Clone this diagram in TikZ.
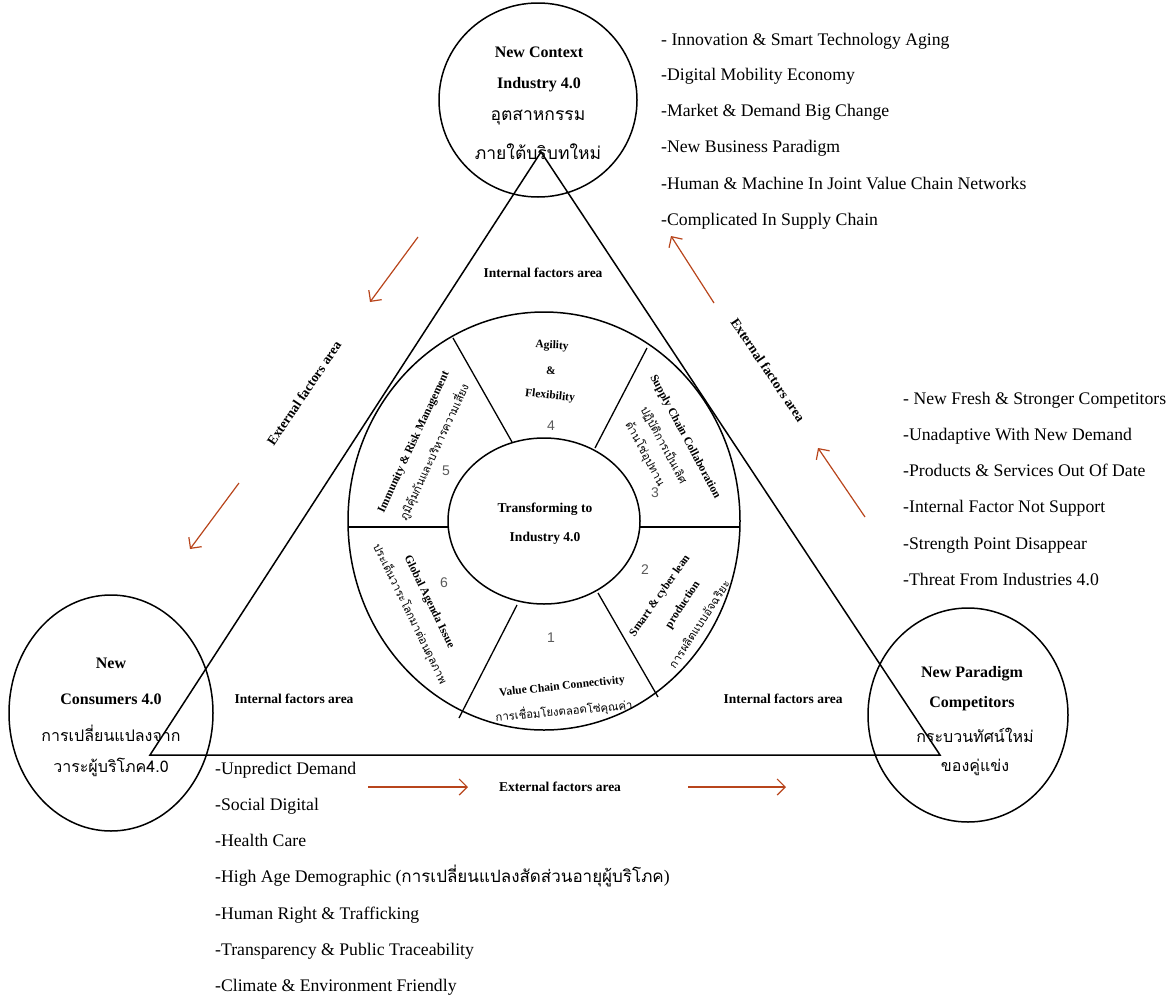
\documentclass[tikz,border=0pt]{standalone}
\usepackage{fontspec}
\setmainfont{Liberation Serif}
\newfontfamily\thai[Script=Thai]{Loma}
\newfontfamily\numfont{Liberation Sans}
\usetikzlibrary{arrows.meta,shapes.geometric}
\definecolor{arrowc}{RGB}{184,69,28}
\definecolor{numc}{RGB}{90,90,90}
\begin{document}
\begin{tikzpicture}[x=1pt,y=-1pt,
 shapeline/.style={draw, line width=1.5pt},
 oval/.style={shapeline, ellipse, inner sep=0pt},
 divider/.style={line width=1.3pt},
 item/.style={anchor=west, inner sep=0pt, font=\fontsize{17.7}{20}\selectfont, text height=12pt, text depth=4pt},
 ctitle/.style={font=\bfseries\fontsize{16}{18}\selectfont, inner sep=0pt},
 cthai/.style={font=\thai\fontsize{16}{19}\selectfont, inner sep=0pt},
 cthaitop/.style={font=\thai\fontsize{17.5}{20}\selectfont, inner sep=0pt},
 area/.style={font=\bfseries\fontsize{13.5}{16}\selectfont, inner sep=0pt},
 seg/.style={font=\bfseries\fontsize{11.5}{13}\selectfont, inner sep=0pt},
 segthai/.style={font=\thai\fontsize{11.3}{13}\selectfont, inner sep=0pt},
 num/.style={font=\numfont\fontsize{14}{16}\selectfont, text=numc, inner sep=0pt},
 flow/.style={draw=arrowc, line width=1.2pt, -{Straight Barb[length=8pt,width=16pt]}}
]
\useasboundingbox (0,0) rectangle (1172,996);

% outer circles
\node[oval, minimum width=198pt, minimum height=194pt] (ctx) at (538,100) {};
\node[oval, minimum width=204pt, minimum height=236pt] (cons) at (111,713) {};
\node[oval, minimum width=200pt, minimum height=214pt] (comp) at (968,715) {};

% triangle
\coordinate (tA) at (541,152);
\coordinate (tL) at (150,755);
\coordinate (tR) at (940,755);
\draw[line width=1.5pt] (tA) -- (tR) -- (tL) -- cycle;

% inner wheel
\node[oval, minimum width=392pt, minimum height=418pt] (wheel) at (544,521) {};
\node[oval, minimum width=192pt, minimum height=166pt] (hub) at (544,521) {};
\coordinate (d1a) at (348.5,527); \coordinate (d1b) at (448.5,527);
\coordinate (d2a) at (639.5,527); \coordinate (d2b) at (739.5,527);
\coordinate (d3a) at (453,338); \coordinate (d3b) at (512,442);
\coordinate (d4a) at (647,348); \coordinate (d4b) at (595,448);
\coordinate (d5a) at (517,605); \coordinate (d5b) at (459,718);
\coordinate (d6a) at (598,593); \coordinate (d6b) at (658,697);
\draw[line width=1.5pt] (d1a) -- (d1b);
\draw[line width=1.5pt] (d2a) -- (d2b);
\draw[divider] (d3a) -- (d3b);
\draw[divider] (d4a) -- (d4b);
\draw[divider] (d5a) -- (d5b);
\draw[divider] (d6a) -- (d6b);

% hub text
\node[area] (h1) at (545,509) {Transforming to};
\node[area] (h2) at (545,538) {Industry 4.0};

% segment 4
\node[seg, rotate=-3] (s4a) at (552,346) {Agility};
\node[seg] (s4b) at (551,371) {\&};
\node[seg, rotate=-6] (s4c) at (550,396) {Flexibility};
\node[num] (n4) at (551,426) {4};
% segment 3
\node[seg, rotate=-62] (s3a) at (685,437) {Supply Chain Collaboration};
\node[segthai, rotate=-62] (s3b) at (664,445) {ปฏิบัติการเป็นเลิศ};
\node[segthai, rotate=-62] (s3c) at (645,454) {ด้านโซ่อุปทาน};
\node[num] (n3) at (655,493) {3};
% segment 2
\node[seg, rotate=55] (s2a) at (660,596) {Smart \& cyber lean};
\node[seg, rotate=57] (s2b) at (683,605) {production};
\node[segthai, rotate=57] (s2c) at (699,624) {การผลิตแบบอัจฉริยะ};
\node[num] (n2) at (645,570) {2};
% segment 1
\node[seg, rotate=6] (s1a) at (562,687) {Value Chain Connectivity};
\node[segthai, rotate=5] (s1b) at (564,711) {การเชื่อมโยงตลอดโซ่คุณค่า};
\node[num] (n1) at (551,638) {1};
% segment 6
\node[seg, rotate=-64] (s6a) at (429,602) {Global Agenda Issue};
\node[segthai, rotate=-64] (s6b) at (410,614) {ประเด็นวาระโลกมาต่อนดุลภาพ};
\node[num] (n6) at (444,583) {6};
% segment 5
\node[seg, rotate=65] (s5a) at (414,442) {Immunity \& Risk Management};
\node[segthai, rotate=65] (s5b) at (434,452) {ภูมิคุ้มกันและบริหารความเสี่ยง};
\node[num] (n5) at (446,471) {5};

% circle titles
\node[ctitle] (ct1) at (539,52) {New Context};
\node[ctitle] (ct2) at (539,85) {Industry 4.0};
\node[cthaitop] (ct3) at (538,118) {อุตสาหกรรม};
\node[cthaitop] (ct4) at (538,152) {ภายใต้บริบทใหม่};
\node[ctitle] (cc1) at (111,663) {New};
\node[ctitle] (cc2) at (111,699) {Consumers 4.0};
\node[cthai] (cc3) at (111,733) {การเปลี่ยนแปลงจาก};
\node[cthai] (cc4) at (111,767) {วาระผู้บริโภค4.0};
\node[ctitle] (cp1) at (972,674) {New Paradigm};
\node[ctitle] (cp2) at (972,704) {Competitors};
\node[cthai] (cp3) at (975,735) {กระบวนทัศน์ใหม่};
\node[cthai] (cp4) at (975,767) {ของคู่แข่ง};

% area labels
\node[area] (ia1) at (543,273) {Internal factors area};
\node[area] (ia2) at (294,699) {Internal factors area};
\node[area] (ia3) at (783,699) {Internal factors area};
\node[area, rotate=56] (ea1) at (304,393) {External factors area};
\node[area, rotate=-56] (ea2) at (768,370) {External factors area};
\node[area] (ea3) at (560,787) {External factors area};

% arrows
\coordinate (a1s) at (418,237); \coordinate (a1e) at (370,302);
\coordinate (a2s) at (239,483); \coordinate (a2e) at (190,549);
\coordinate (a3s) at (714,303); \coordinate (a3e) at (671,236);
\coordinate (a4s) at (865,517); \coordinate (a4e) at (818,448);
\coordinate (a5s) at (368,787); \coordinate (a5e) at (468,787);
\coordinate (a6s) at (688,787); \coordinate (a6e) at (786,787);
\draw[flow] (a1s) -- (a1e);
\draw[flow] (a2s) -- (a2e);
\draw[flow] (a3s) -- (a3e);
\draw[flow] (a4s) -- (a4e);
\draw[flow] (a5s) -- (a5e);
\draw[flow] (a6s) -- (a6e);

% lists
\node[item] (t1) at (661,41) {- Innovation \& Smart Technology Aging};
\node[item] (t2) at (661,76) {-Digital Mobility Economy};
\node[item] (t3) at (661,112) {-Market \& Demand Big Change};
\node[item] (t4) at (661,148) {-New Business Paradigm};
\node[item] (t5) at (661,185) {-Human \& Machine In Joint Value Chain Networks};
\node[item] (t6) at (661,221) {-Complicated In Supply Chain};

\node[item] (r1) at (903,400) {- New Fresh \& Stronger Competitors};
\node[item] (r2) at (903,436) {-Unadaptive With New Demand};
\node[item] (r3) at (903,472) {-Products \& Services Out Of Date};
\node[item] (r4) at (903,508) {-Internal Factor Not Support};
\node[item] (r5) at (903,545) {-Strength Point Disappear};
\node[item] (r6) at (903,581) {-Threat From Industries 4.0};

\node[item] (b1) at (215,770) {-Unpredict Demand};
\node[item] (b2) at (215,806) {-Social Digital};
\node[item] (b3) at (215,842) {-Health Care};
\node[item] (b4) at (215,878) {-High Age Demographic ({\thai\fontsize{17}{20}\selectfont การเปลี่ยนแปลงสัดส่วนอายุผู้บริโภค})};
\node[item] (b5) at (215,915) {-Human Right \& Trafficking};
\node[item] (b6) at (215,951) {-Transparency \& Public Traceability};
\node[item] (b7) at (215,987) {-Climate \& Environment Friendly};
\end{tikzpicture}
\end{document}
